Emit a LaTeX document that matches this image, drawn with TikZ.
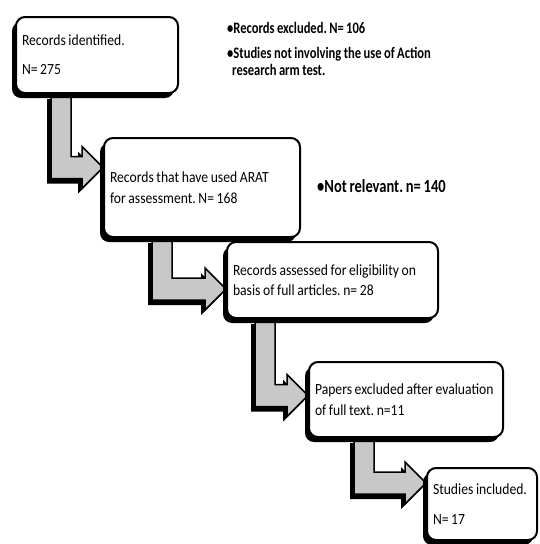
\documentclass[tikz,border=0pt]{standalone}
\usepackage{fontspec}
\setmainfont{Carlito}
\newfontfamily\boxfont[FakeStretch=0.88]{Carlito}
\newfontfamily\notefont[FakeStretch=0.785]{Carlito Bold}
\usetikzlibrary{calc,shadows,backgrounds}
\definecolor{arrowgray}{HTML}{C8C8C8}
\frenchspacing
\hyphenpenalty=10000

% fat bent arrow: #1 = top of the shaft (centre), #2 = tip
\newcommand{\bentarrow}[2]{%
  \filldraw[fatarrow] let \p1=(#1), \p2=(#2) in
    ({\x1-10pt},\y1) -- ({\x1-10pt},{\y2-11pt}) -- ({\x2-21pt},{\y2-11pt})
    -- ({\x2-21pt},{\y2-21pt}) -- (\x2,\y2) -- ({\x2-21pt},{\y2+21pt})
    -- ({\x2-21pt},{\y2+11pt}) -- ({\x1+10pt},{\y2+11pt}) -- ({\x1+10pt},\y1) -- cycle;}

\begin{document}
\begin{tikzpicture}[x=1pt,y=-1pt,
    flowbox/.style={draw=black,line width=2pt,rounded corners=9pt,fill=white,align=left,
      inner xsep=6pt,font=\boxfont\fontsize{15.5pt}{20.5pt}\selectfont,
      execute at begin node={\spaceskip=0.17em\relax},
      drop shadow={shadow xshift=-4pt,shadow yshift=-5pt,opacity=1,fill=black}},
    note/.style={align=left,inner sep=0pt,anchor=base west,font=\notefont\fontsize{16pt}{17pt}\selectfont,
      execute at begin node={\spaceskip=0.15em\relax}},
    fatarrow/.style={draw=black,line width=1.5pt,fill=arrowgray,line join=miter,
      drop shadow={shadow xshift=-4pt,shadow yshift=-5pt,opacity=1,fill=black}}
]
\useasboundingbox (0,0) rectangle (539,544);

\node[flowbox,text width=150pt,minimum height=76pt] (recid) at (97,55) {Records identified.\\[8.5pt]N= 275};
\node[flowbox,text width=184pt,minimum height=99pt] (used) at (202,187.5) {Records that have used ARAT\\for assessment. N= 168};
\node[flowbox,text width=199pt,minimum height=76pt] (assess) at (332.5,280) {Records assessed for eligibility on\\basis of full articles. n= 28};
\node[flowbox,text width=182pt,minimum height=75pt] (fulltext) at (406,399.5) {Papers excluded after evaluation\\of full text. n=11};
\node[flowbox,text width=98pt,minimum height=72pt] (incl) at (482,504) {Studies included.\\[9.5pt]N= 17};

% base of a multi-line note is its last line
\node[note] (excnote) at (227,75) {•Records excluded. N= 106\\[8pt]•Studies not involving the use of Action\\\hspace*{5pt}research arm test.};
\node[note,font=\notefont\fontsize{18.5pt}{20pt}\selectfont] (relnote) at (317,192) {•Not relevant. n= 140};

\begin{scope}[on background layer]
\bentarrow{$(recid.south west)+(46,0)$}{$(used.west)+(0,-20)$}
\bentarrow{$(used.south west)+(59,0)$}{$(assess.west)+(0,9)$}
\bentarrow{$(assess.south west)+(39,0)$}{$(fulltext.west)+(0,-4)$}
\bentarrow{$(fulltext.south west)+(56,0)$}{$(incl.west)+(0,-21)$}
\end{scope}
\end{tikzpicture}
\end{document}
